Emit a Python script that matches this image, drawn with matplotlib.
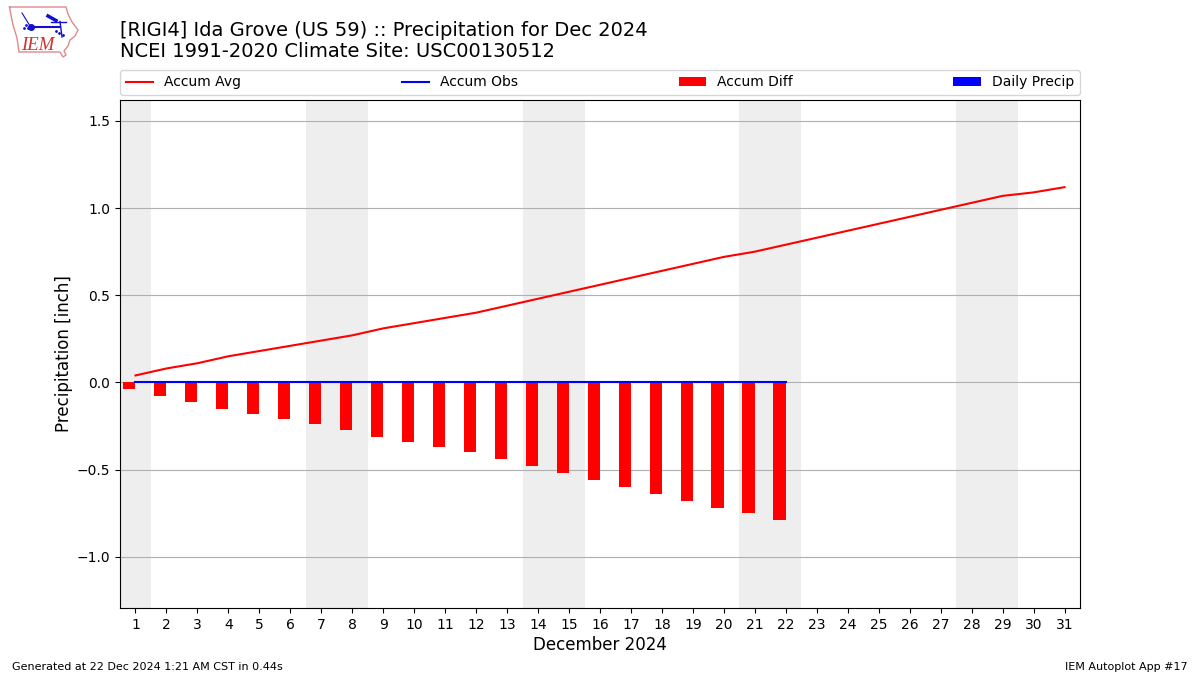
import matplotlib
matplotlib.use("Agg")
import matplotlib.pyplot as plt
import numpy as np

days = list(range(1, 32))
accum_avg = [0.04, 0.08, 0.11, 0.15, 0.18, 0.21, 0.24, 0.27, 0.31, 0.34, 0.37,
             0.40, 0.44, 0.48, 0.52, 0.56, 0.60, 0.64, 0.68, 0.72, 0.75, 0.79,
             0.83, 0.87, 0.91, 0.95, 0.99, 1.03, 1.07, 1.09, 1.12]
obs_days = list(range(1, 23))
accum_obs = [0.0] * 22
accum_diff = [-0.04, -0.08, -0.11, -0.15, -0.18, -0.21, -0.24, -0.275, -0.315, -0.34, -0.37,
              -0.40, -0.44, -0.48, -0.52, -0.56, -0.60, -0.64, -0.68, -0.72, -0.75, -0.79]
daily_precip = [0.0] * 22
weekends = [(0.5, 1.5), (6.5, 8.5), (13.5, 15.5), (20.5, 22.5), (27.5, 29.5)]
yticks = [-1.0, -0.5, 0.0, 0.5, 1.0, 1.5]

W, H = 1200, 675
fig = plt.figure(figsize=(12, 6.75), dpi=100)
ax = fig.add_axes([120 / W, 1 - 608 / H, (1080 - 120) / W, (608 - 100) / H])

for a, b in weekends:
    ax.axvspan(a, b, color="#EEEEEE", lw=0, zorder=0)
ax.bar(obs_days, accum_diff, width=-0.4, align="edge", color="r", label="Accum Diff", zorder=2)
ax.bar(obs_days, daily_precip, width=0.4, align="edge", color="b", label="Daily Precip", zorder=2)
ax.plot(days, accum_avg, color="r", lw=1.5, label="Accum Avg", zorder=3)
ax.plot(obs_days, accum_obs, color="b", lw=1.5, label="Accum Obs", zorder=3)

ax.set_xlim(0.5, 31.5)
ax.set_ylim(-1.294, 1.62)
ax.set_xticks(days)
ax.set_yticks(yticks)
ax.grid(axis="y", color="#b0b0b0", lw=0.8, zorder=1)
ax.set_axisbelow(True)
ax.tick_params(labelsize=10)
ax.set_xlabel("December 2024", fontsize=12, labelpad=3.28)
ax.set_ylabel("Precipitation [inch]", fontsize=12, labelpad=2.56)

handles, labels = ax.get_legend_handles_labels()
order = [labels.index(n) for n in ["Accum Avg", "Accum Obs", "Accum Diff", "Daily Precip"]]
ax.legend([handles[i] for i in order], [labels[i] for i in order],
          bbox_to_anchor=(0, 1.0098, 1, 0.05), loc="lower left", mode="expand",
          ncol=4, borderaxespad=0, fontsize=10)

fig.text(120 / W, 1 - 61 / H, "[RIGI4] Ida Grove (US 59) :: Precipitation for Dec 2024\n"
         "NCEI 1991-2020 Climate Site: USC00130512", fontsize=14, ha="left", va="bottom",
         linespacing=1.1)
fig.text(12 / W, 1 - 672 / H, "Generated at 22 Dec 2024 1:21 AM CST in 0.44s", fontsize=8, ha="left", va="bottom")
fig.text(1188 / W, 1 - 672 / H, "IEM Autoplot App #17", fontsize=8, ha="right", va="bottom")

# logo, drawn in pixel-like coordinates
logo = fig.add_axes([0, 1 - 60 / H, 90 / W, 60 / H])
logo.set_xlim(0, 90)
logo.set_ylim(60, 0)
logo.axis("off")
outline = [(9.5, 7), (66, 7), (68, 14), (72, 22), (78, 30), (75, 36), (70, 40), (68, 46),
           (64, 51), (66, 55), (63, 57), (60, 52), (19, 52), (17, 38), (13, 25), (11, 15), (9.5, 7)]
logo.plot(*zip(*outline), color="#e08a8a", lw=1)
logo.plot([30, 60], [26.5, 26.5], color="#1010d0", lw=1.5)
logo.plot([22, 30], [13, 26], color="#1010d0", lw=0.8)
logo.plot([31], [26.5], "o", color="#1010d0", ms=4)
logo.plot([48, 56], [16, 20.5], color="#1010d0", lw=2.5)
logo.plot([51, 66], [21.5, 21.5], color="#1010d0", lw=1)
logo.plot([60, 62], [21.5, 37], color="#1010d0", lw=1)
logo.plot([24, 26, 28, 56, 59, 63], [28, 25, 28, 31, 33, 35], ".", color="#1010d0", ms=2)
logo.text(37.5, 45, "IEM", color="#d03030", fontsize=13.5, family="Liberation Serif",
          style="italic", ha="center", va="center")

fig.savefig("out.png", dpi=100)
